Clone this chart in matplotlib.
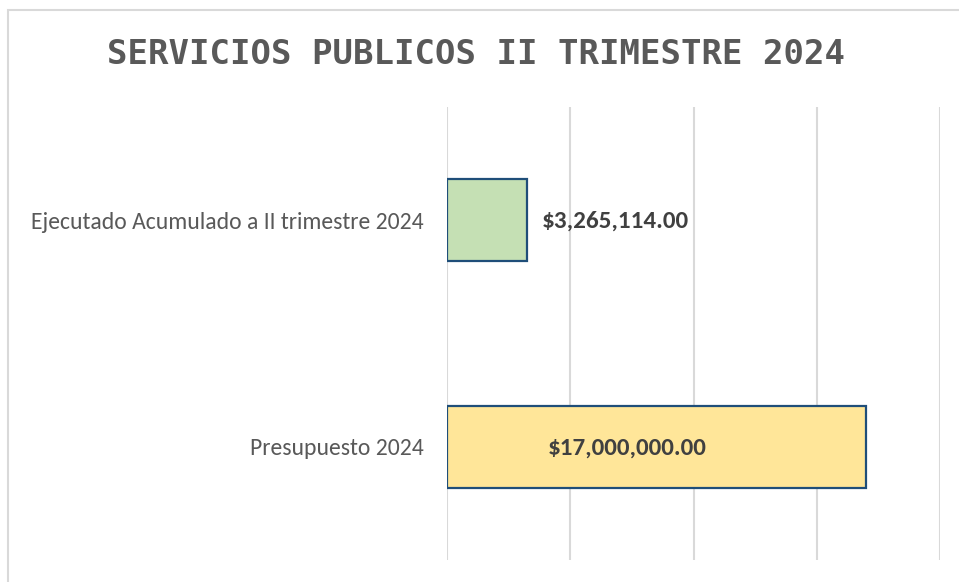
#!/usr/bin/env python3

import matplotlib
matplotlib.use("Agg")
import matplotlib.pyplot as plt
from matplotlib.patches import Rectangle

categorias = ["Presupuesto 2024", "Ejecutado Acumulado a II trimestre 2024"]
valores = [17000000.00, 3265114.00]
colores = ["#FFE699", "#C5E0B4"]
titulo = "SERVICIOS PUBLICOS II TRIMESTRE 2024"

fuente = ["Carlito", "Liberation Sans Narrow", "Open Sans", "DejaVu Sans"]

fig = plt.figure(figsize=(9.59, 5.82), dpi=100)
fig.patch.set_facecolor("white")

# marco exterior del grafico (gris claro)
fig.patches.append(Rectangle((7.5 / 959, -0.1), 1.2, (582 - 10) / 582 + 0.1,
                             transform=fig.transFigure, fill=False,
                             edgecolor="#D9D9D9", lw=1.5))

ax = fig.add_axes([447 / 959, 22 / 582, 493 / 959, 453 / 582])

y = range(len(categorias))
ax.barh(y, valores, height=0.36, color=colores, edgecolor="#1F4E79",
        linewidth=1.6, zorder=3)

ax.set_xlim(0, 20000000)
ax.set_ylim(-0.5, 1.5)
ax.set_xticks([0, 5000000, 10000000, 15000000, 20000000])
ax.xaxis.grid(True, color="#D9D9D9", lw=1.5, zorder=0)
ax.set_xticklabels([])
ax.tick_params(axis="both", length=0)
ax.set_yticks(list(y))
ax.set_yticklabels(categorias, fontsize=17, color="#595959", family=fuente)
ax.tick_params(axis="y", pad=17)
for s in ax.spines.values():
    s.set_visible(False)

# etiquetas de valor
etiq = ["${:,.2f}".format(v) for v in valores]
ax.annotate(etiq[0], (valores[0] / 2, 0), xytext=(-21, -1), textcoords="offset points",
            ha="center", va="center", fontsize=18, fontweight="bold", color="#404040",
            family=fuente, zorder=4)
ax.annotate(etiq[1], (valores[1], 1), xytext=(10, -1), textcoords="offset points",
            ha="left", va="center", fontsize=18, fontweight="bold", color="#404040",
            family=fuente, zorder=4)

fig.text(476 / 959, 1 - 54 / 582, titulo, ha="center", va="center",
         fontsize=24.5, fontweight="bold", color="#595959", family="DejaVu Sans Mono")

fig.savefig("out.png", dpi=100)
